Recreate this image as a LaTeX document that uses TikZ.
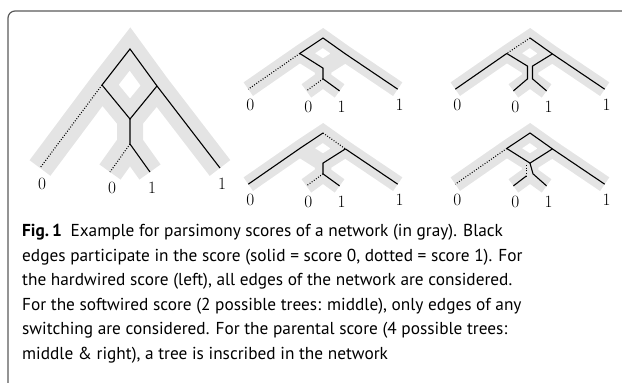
\documentclass[tikz,border=0pt]{standalone}
\usepackage{fontspec}
\newfontfamily\capfont{PT Sans}
\usetikzlibrary{positioning,calc}

\definecolor{netgray}{RGB}{228,228,228}
\definecolor{framegray}{RGB}{90,90,90}

\newcommand\netcoords[1]{%
  \coordinate (#1r) at (0,0);
  \coordinate (#1l) at (-28,36);
  \coordinate (#1q) at (27,37);
  \coordinate (#1h) at (0,70);
  \coordinate (#1k) at (0,95);
  \coordinate (#1a) at (-90,119);
  \coordinate (#1b) at (-20,123);
  \coordinate (#1c) at (20,123);
  \coordinate (#1d) at (90,119);
}
\newcommand\netband[2]{%
  \draw[band, line width=#2] (#1a) -- (#1l) -- (#1r) -- (#1q) -- (#1d)
    (#1l) -- (#1h) -- (#1q) (#1h) -- (#1k) (#1b) -- (#1k) -- (#1c);
}
\newcommand\netlabels[1]{%
  \node[leaf, below=10pt of #1a, xshift=2pt] (#1la) {$0$};
  \node[leaf, below=10pt of #1b, xshift=2pt] (#1lb) {$0$};
  \node[leaf, below=10pt of #1c, xshift=2pt] (#1lc) {$1$};
  \node[leaf, below=10pt of #1d, xshift=2pt] (#1ld) {$1$};
}

\begin{document}
\begin{tikzpicture}[x=1pt, y=-1pt,
    band/.style={draw=netgray, line join=miter},
    scorezero/.style={line width=1.1pt},
    scoreone/.style={line width=1.1pt, dash pattern=on 0.9pt off 1.7pt},
    leaf/.style={inner sep=0pt, font=\fontsize{19}{19}\selectfont},
    caption/.style={inner sep=0pt, align=left, anchor=north west,
      font=\capfont\fontsize{17.3}{24.6}\selectfont}]
  \useasboundingbox (0,0) rectangle (622,383);
  \draw[framegray, line width=1.2pt, rounded corners=7pt] (8,383) |- (622,11);

  \begin{scope}[shift={(130,49)}]
    \netcoords{L}
  \end{scope}
  \begin{scope}[shift={(323,38)}, xscale=0.83, yscale=0.43]
    \netcoords{M}
  \end{scope}
  \begin{scope}[shift={(530,38)}, xscale=0.83, yscale=0.43]
    \netcoords{N}
  \end{scope}
  \begin{scope}[shift={(323,133)}, xscale=0.83, yscale=0.43]
    \netcoords{P}
  \end{scope}
  \begin{scope}[shift={(530,133)}, xscale=0.83, yscale=0.43]
    \netcoords{Q}
  \end{scope}

  \netband{L}{26pt}
  \netband{M}{16.5pt}
  \netband{N}{16.5pt}
  \netband{P}{16.5pt}
  \netband{Q}{16.5pt}

  % hardwired
  \draw[scorezero] (Ll) -- (Lr) -- (Lq) -- (Ld);
  \draw[scorezero] (Ll) -- (Lh) -- (Lq);
  \draw[scorezero] (Lh) -- (Lk) -- (Lc);
  \draw[scoreone] (Ll) -- (La);
  \draw[scoreone] (Lk) -- (Lb);

  % softwired
  \draw[scorezero] (Ml) -- (Mr) -- (Mq) -- (Md);
  \draw[scorezero] (Ml) -- (Mh) -- (Mk) -- (Mc);
  \draw[scoreone] (Ml) -- (Ma);
  \draw[scoreone] (Mk) -- (Mb);

  \draw[scorezero] (Pa) -- (Pl) -- (Pr);
  \draw[scoreone] (Pr) -- (Pq);
  \draw[scorezero] (Pq) -- (Pd);
  \draw[scorezero] (Pq) -- (Ph) -- (Pk) -- (Pc);
  \draw[scoreone] (Pk) -- (Pb);

  % parental
  \draw[scoreone] (Nr) -- (Nl);
  \draw[scorezero] (Nr) -- (Nq) -- (Nd);
  \draw[scorezero] (Nl) -- (Na);
  \draw[scorezero] (Nl) -- ($(Nh)+(-2.5,-2)$) -- ($(Nk)+(-2.5,0)$) -- (Nb);
  \draw[scorezero] (Nq) -- ($(Nh)+(2.5,-2)$) -- ($(Nk)+(2.5,0)$) -- (Nc);

  \draw[scorezero] (Ql) -- (Qr) -- (Qq) -- (Qd);
  \draw[scoreone] (Ql) -- (Qa);
  \draw[scorezero] (Ql) -- (Qh) -- (Qq);
  \draw[scoreone] ($(Qh)+(-3.5,2)$) -- ($(Qk)+(-3.5,2)$);
  \draw[scorezero] ($(Qk)+(-3.5,2)$) -- (Qb);
  \draw[scorezero] (Qh) -- ($(Qk)+(3,0)$) -- (Qc);

  \netlabels{L}
  \netlabels{M}
  \netlabels{N}
  \netlabels{P}
  \netlabels{Q}

  \node[caption] (cap) at (22,224) {\textbf{Fig.\,1}\enspace Example for parsimony scores of a network (in gray). Black\\
    edges participate in the score (solid = score 0, dotted = score 1). For\\
    the hardwired score (left), all edges of the network are considered.\\
    For the softwired score (2 possible trees: middle), only edges of any\\
    switching are considered. For the parental score (4 possible trees:\\
    middle \& right), a tree is inscribed in the network};
\end{tikzpicture}
\end{document}
